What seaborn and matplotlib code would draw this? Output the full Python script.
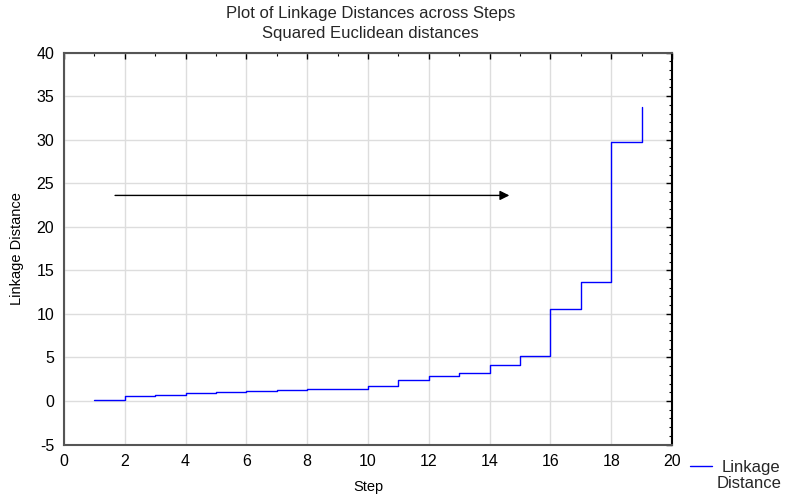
import numpy as np
import pandas as pd
import matplotlib
matplotlib.use('Agg')
import matplotlib.pyplot as plt
from matplotlib.ticker import MultipleLocator
import seaborn as sns

# linkage distance at each amalgamation step
steps = list(range(1, 20))
distances = [0.11, 0.53, 0.64, 0.92, 1.06, 1.14, 1.26, 1.37, 1.41, 1.72,
             2.40, 2.86, 3.16, 4.12, 5.15, 10.56, 13.68, 29.7, 33.75]
arrow_x = [1.68, 14.65]
arrow_y = 23.6

df = pd.DataFrame({'Step': steps, 'Linkage Distance': distances})

sns.set_theme(style='whitegrid')
plt.rcParams['font.family'] = ['Liberation Sans', 'DejaVu Sans']
plt.rcParams['axes.unicode_minus'] = False

fig = plt.figure(figsize=(7.88, 4.98), dpi=100)
ax = fig.add_axes([0.0812, 0.1074, 0.7716, 0.787])

sns.lineplot(data=df, x='Step', y='Linkage Distance', ax=ax, color='#0000ff',
             linewidth=1, drawstyle='steps-post', label='Linkage',
             legend=False)

ax.annotate('', xy=(arrow_x[1], arrow_y), xytext=(arrow_x[0], arrow_y),
            arrowprops=dict(arrowstyle='-|>', color='black', lw=1,
                            mutation_scale=14, shrinkA=0, shrinkB=0))

ax.set_xlim(0, 20)
ax.set_ylim(-5, 40)
ax.xaxis.set_major_locator(MultipleLocator(2))
ax.xaxis.set_minor_locator(MultipleLocator(1))
ax.yaxis.set_major_locator(MultipleLocator(5))
ax.yaxis.set_minor_locator(MultipleLocator(1))
ax.tick_params(which='both', direction='in', top=True, right=True,
               colors='black', labelsize=11.5)
ax.tick_params(which='major', length=4, width=1)
ax.tick_params(which='minor', length=2, width=0.8)
ax.tick_params(axis='x', pad=7)
ax.tick_params(axis='y', pad=7)
ax.grid(True, which='major', color='#dddddd', linewidth=1)
ax.grid(False, which='minor')
for side in ['left', 'bottom', 'top', 'right']:
    ax.spines[side].set_visible(True)
    ax.spines[side].set_color('#555555')
    ax.spines[side].set_linewidth(1.5)
ax.spines['right'].set_color('black')

ax.set_xlabel('Step', fontsize=10.5, color='black', labelpad=8)
ax.set_ylabel('Linkage Distance', fontsize=10.5, color='black', labelpad=9)
fig.text(0.47, 0.987, 'Plot of Linkage Distances across Steps\nSquared Euclidean distances',
         ha='center', va='top', fontsize=12, linespacing=1.35)

# legend outside the axes, bottom right; second word of the label sits below
handles, labels = ax.get_legend_handles_labels()
leg = fig.legend(handles, labels, loc='center left', bbox_to_anchor=(0.875, 0.062),
                 frameon=False, fontsize=12, handlelength=1.35, handletextpad=0.6,
                 borderpad=0, borderaxespad=0)
fig.text(0.951, 0.03, 'Distance', ha='center', va='center', fontsize=12)

fig.savefig('out.png', dpi=100)
